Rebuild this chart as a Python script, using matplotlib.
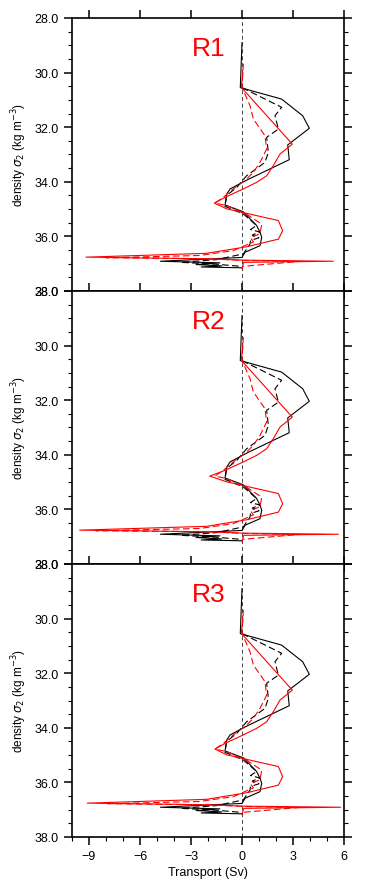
import numpy as np
import matplotlib.pyplot as plt
from matplotlib.ticker import MultipleLocator, FormatStrFormatter

plt.rcParams['font.family'] = ['Liberation Sans', 'DejaVu Sans']

panel_names = ["R1", "R2", "R3"]

# black solid profile
bs_dens = [28.9, 30.55, 30.97, 31.58, 32.04, 32.65, 33.19, 33.9, 34.26, 34.45, 34.85,
           35.1, 35.6, 35.85, 36.03, 36.34, 36.58, 36.77, 36.91, 36.97, 37.03, 37.08,
           37.12, 37.15]
bs_trans = [0.0, -0.1, 2.33, 3.57, 3.96, 2.69, 2.78, 0.4, -0.7, -0.9, -1.0,
            0.08, 0.86, 1.06, 1.16, 1.06, 0.18, 0.0, -4.8, -1.3, -2.7, -1.2,
            -2.4, 0.0]

# black dashed profile
bd_dens = [30.55, 31.27, 31.58, 32.07, 32.37, 32.92, 33.29, 33.78, 34.2, 34.5, 34.9,
           35.18, 35.6, 35.75, 35.84, 35.95, 36.05, 36.15, 36.28, 36.64, 36.85, 36.95,
           37.02, 37.1]
bd_trans = [0.0, 2.33, 1.94, 2.14, 1.45, 1.55, 1.35, 0.27, -0.3, -0.9, -1.0,
            0.08, 0.86, 0.5, 1.06, 0.6, 1.0, 0.5, 0.47, 0.08, -1.5, -3.6,
            -1.5, 0.0]

# red solid profile
rs_dens = [29.99, 30.54, 32.62, 32.98, 33.41, 33.78, 34.02, 34.26, 34.57, 34.78, 34.99,
           35.42, 35.79, 36.1, 36.38, 36.62, 36.76, 36.82, 36.87, 36.91, 36.95, 37.18]
rs_trans = [0.05, -0.04, 2.96, 2.24, 1.84, 1.45, 0.86, 0.08, -1.0, -1.63, -0.9,
            2.14, 2.39, 2.14, 0.27, -2.08, -9.18, -2.0, 0.1, 5.37, 0.1, 0.0]

# red dashed profile
rd_dens = [29.68, 30.54, 31.21, 31.7, 32.31, 32.8, 33.29, 33.65, 33.9, 34.26, 34.57,
           34.78, 34.87, 35.2, 35.55, 35.9, 36.05, 36.2, 36.52, 36.7, 36.78, 36.82,
           36.88, 36.92, 37.1]
rd_trans = [0.08, 0.0, 0.47, 0.67, 1.35, 1.45, 1.06, 0.67, 0.27, -0.51, -1.1,
            -1.59, -0.9, 0.3, 1.16, 1.06, 0.5, 0.67, -0.5, -2.5, -8.0, -2.0,
            0.1, 3.3, 0.0]

# values that differ between the panels
red_left = [-9.18, -9.55, -9.1]
red_right = [5.37, 5.67, 5.8]
red_min = [-1.63, -1.9, -1.59]
red_dash_left = [-8.0, -8.6, -7.9]

fig = plt.figure(figsize=(3.65, 8.95), dpi=100)

left, width = 72 / 365, (344 - 72) / 365
tops = [19, 292, 565]
h = 273

for i in range(3):
    ax = fig.add_axes([left, 1 - (tops[i] + h) / 895, width, h / 895])

    rs = list(rs_trans)
    rs[16] = red_left[i]
    rs[19] = red_right[i]
    rs[9] = red_min[i]
    rd = list(rd_trans)
    rd[20] = red_dash_left[i]

    ax.axvline(0, color="#444444", lw=0.7, ls=(0, (4, 3)), zorder=1)
    ax.plot(bs_trans, bs_dens, color="black", lw=0.8)
    ax.plot(bd_trans, bd_dens, color="black", lw=0.8, ls=(0, (6, 3)))
    ax.plot(rs, rs_dens, color="red", lw=0.8)
    ax.plot(rd, rd_dens, color="red", lw=0.8, ls=(0, (6, 3)))

    ax.text(-1.95, 29.1, panel_names[i], color="red", fontsize=19,
            ha="center", va="center")

    ax.set_xlim(-10, 6)
    ax.set_ylim(38, 28)
    ax.xaxis.set_major_locator(MultipleLocator(3))
    ax.yaxis.set_major_locator(MultipleLocator(2))
    ax.yaxis.set_minor_locator(MultipleLocator(0.5))
    ax.yaxis.set_major_formatter(FormatStrFormatter("%.1f"))
    ax.tick_params(which="major", direction="out", length=6, width=1.1,
                   top=True, right=True, labelsize=9)
    ax.tick_params(which="minor", direction="out", length=3, width=0.8,
                   right=True)
    if i == 2:
        ax.xaxis.set_minor_locator(MultipleLocator(1))
        ax.tick_params(which="minor", axis="x", top=False)
        ax.set_xlabel("Transport (Sv)", fontsize=9, labelpad=3)
    else:
        ax.tick_params(axis="x", labelbottom=False)
    ax.set_ylabel(r"density $\sigma_2$ (kg m$^{-3}$)", fontsize=8.5, labelpad=4)
    for s in ax.spines.values():
        s.set_linewidth(1.2)

plt.savefig("out.png", dpi=100)
